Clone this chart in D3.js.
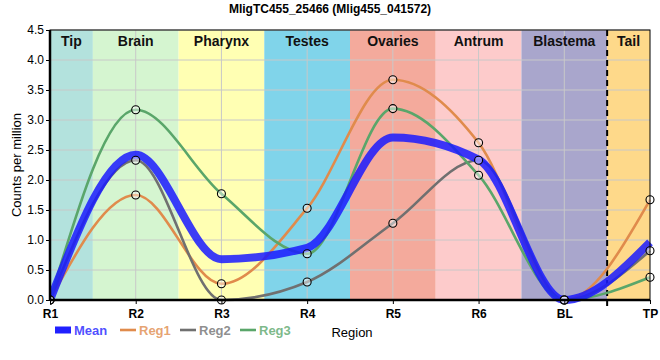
<!DOCTYPE html>
<html><head><meta charset="utf-8">
<script src="https://cdn.jsdelivr.net/npm/d3@7"></script>
<style>body{margin:0;background:#fff;}svg{display:block;font-family:"Liberation Sans",Arial,sans-serif;}</style>
</head><body><svg id="c" width="660" height="360"></svg>
<script>
const categories = ["R1","R2","R3","R4","R5","R6","BL","TP"];
const regions = ["Tip","Brain","Pharynx","Testes","Ovaries","Antrum","Blastema","Tail"];
const regionColors = ["#b3e2dd","#d5f5d0","#ffffb3","#80d4ea","#f4aa9c","#fdcbcb","#a9a6cc","#fed98a"];
const reg1 = [0, 1.75, 0.27, 1.53, 3.67, 2.62, 0, 1.67];
const reg2 = [0, 2.33, 0, 0.30, 1.28, 2.33, 0, 0.82];
const reg3 = [0, 3.17, 1.77, 0.77, 3.19, 2.08, 0, 0.38];
const mean = [0, 2.42, 0.68, 0.87, 2.71, 2.34, 0, 0.96];
const yTicks = [0,0.5,1,1.5,2,2.5,3,3.5,4,4.5];

const svg = d3.select("#c");
const L=50,R=650,T=30,B=300;
const x = d3.scalePoint().domain(categories).range([L,R]);
const step = x.step();
const y = d3.scaleLinear().domain([0,4.5]).range([B,T]);

regions.forEach((r,i)=>{
  const x0 = Math.max(L, x(categories[i]) - step/2);
  const x1 = Math.min(R, x(categories[i]) + step/2);
  svg.append("rect").attr("x",x0).attr("y",T).attr("width",x1-x0).attr("height",B-T).attr("fill",regionColors[i]);
});
svg.append("g").selectAll("line").data(yTicks.slice(1)).join("line")
  .attr("x1",L).attr("x2",R).attr("y1",d=>y(d)).attr("y2",d=>y(d)).attr("stroke","#c8c8c8").attr("stroke-width",1);
svg.append("g").selectAll("line").data(categories.slice(1,-1)).join("line")
  .attr("x1",d=>x(d)).attr("x2",d=>x(d)).attr("y1",T).attr("y2",B).attr("stroke","#c8c8c8").attr("stroke-width",1);
regions.forEach((r,i)=>{
  const x0 = Math.max(L, x(categories[i]) - step/2);
  const x1 = Math.min(R, x(categories[i]) + step/2);
  svg.append("text").attr("x",(x0+x1)/2).attr("y",46).attr("text-anchor","middle")
    .attr("font-size",14).attr("font-weight","bold").attr("fill","#111").text(r);
});
const xd = x("BL")+step/2;
svg.append("line").attr("x1",xd).attr("x2",xd).attr("y1",T).attr("y2",B+6)
  .attr("stroke","#000").attr("stroke-width",2).attr("stroke-dasharray","6,4");

const line = d3.line().x((d,i)=>x(categories[i])).y(d=>y(d)).curve(d3.curveMonotoneX);
svg.append("clipPath").attr("id","cp").append("rect").attr("x",L).attr("y",T-5).attr("width",R-L+10).attr("height",B-T+10);
const g = svg.append("g").attr("clip-path","url(#cp)");
const series = [
  {name:"Reg1",v:reg1,c:"#e08b4c",w:2.6},
  {name:"Reg2",v:reg2,c:"#707070",w:2.6},
  {name:"Reg3",v:reg3,c:"#5aa66a",w:2.6},
];
series.forEach(s=>{
  g.append("path").attr("d",line(s.v)).attr("fill","none").attr("stroke",s.c).attr("stroke-width",s.w);
});
g.append("path").attr("d",line(mean)).attr("fill","none").attr("stroke","#1a1aff").attr("stroke-opacity",0.85).attr("stroke-width",8).attr("stroke-linejoin","round");
series.forEach(s=>{
  g.append("g").selectAll("circle").data(s.v).join("circle")
    .attr("cx",(d,i)=>x(categories[i])).attr("cy",d=>y(d)).attr("r",4)
    .attr("fill","rgba(255,255,255,0.45)").attr("stroke","#000").attr("stroke-width",1.1);
});

svg.append("rect").attr("x",L).attr("y",T).attr("width",R-L).attr("height",B-T).attr("fill","none").attr("stroke","#000").attr("stroke-width",1);
svg.append("line").attr("x1",L).attr("x2",L).attr("y1",T).attr("y2",B).attr("stroke","#000").attr("stroke-width",2.5);
svg.append("line").attr("x1",L).attr("x2",R).attr("y1",B).attr("y2",B).attr("stroke","#000").attr("stroke-width",2.5);

const ya = svg.append("g").attr("transform",`translate(${L},0)`).call(d3.axisLeft(y).tickValues(yTicks).tickFormat(d3.format(".1f")).tickSize(4).tickPadding(2));
ya.select(".domain").remove();
ya.selectAll("text").attr("font-size",12).attr("font-family","Liberation Sans, Arial, sans-serif").attr("fill","#000");
const xa = svg.append("g").attr("transform",`translate(0,${B})`).call(d3.axisBottom(x).tickSize(4).tickPadding(5));
xa.select(".domain").remove();
xa.selectAll("text").attr("font-size",12).attr("font-weight","bold").attr("font-family","Liberation Sans, Arial, sans-serif").attr("fill","#000");

svg.append("text").attr("x",330).attr("y",13).attr("text-anchor","middle").attr("font-size",12).attr("font-weight","bold").text("MligTC455_25466 (Mlig455_041572)");
svg.append("text").attr("transform","translate(21,165) rotate(-90)").attr("text-anchor","middle").attr("font-size",13).text("Counts per million");
svg.append("text").attr("x",352).attr("y",337).attr("text-anchor","middle").attr("font-size",13).text("Region");

const legend = [
  {name:"Mean",c:"#2020ff",w:7,x:55},
  {name:"Reg1",c:"#e08b4c",w:2.6,x:120},
  {name:"Reg2",c:"#707070",w:2.6,x:180},
  {name:"Reg3",c:"#5aa66a",w:2.6,x:240},
];
legend.forEach(l=>{
  svg.append("line").attr("x1",l.x).attr("x2",l.x+16).attr("y1",330).attr("y2",330).attr("stroke",l.c).attr("stroke-width",l.w);
  svg.append("text").attr("x",l.x+19).attr("y",335).attr("font-size",13).attr("fill",l.c).attr("font-weight","bold").attr("fill-opacity",0.8).text(l.name);
});
</script></body></html>
